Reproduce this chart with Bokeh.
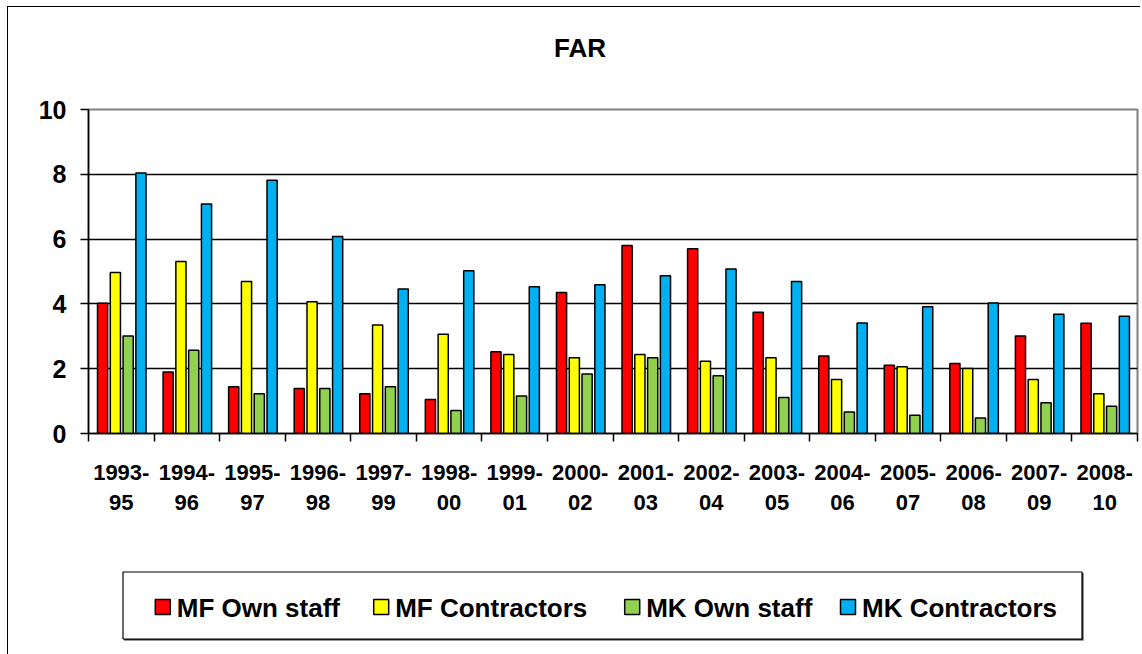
from bokeh.plotting import figure
from bokeh.models import Range1d, FixedTicker
from bokeh.layouts import column
from bokeh.core.properties import value
from bokeh.embed import file_html
from bokeh.resources import INLINE

categories = ["1993-95", "1994-96", "1995-97", "1996-98", "1997-99", "1998-00",
              "1999-01", "2000-02", "2001-03", "2002-04", "2003-05", "2004-06",
              "2005-07", "2006-08", "2007-09", "2008-10"]
series_names = ["MF Own staff", "MF Contractors", "MK Own staff", "MK Contractors"]
mf_own = [4.02, 1.90, 1.44, 1.39, 1.23, 1.05, 2.52, 4.35, 5.80, 5.70, 3.74, 2.39, 2.11, 2.16, 3.01, 3.40]
mf_con = [4.97, 5.31, 4.69, 4.07, 3.35, 3.06, 2.44, 2.34, 2.44, 2.23, 2.34, 1.67, 2.06, 2.01, 1.67, 1.23]
mk_own = [3.01, 2.57, 1.23, 1.39, 1.44, 0.71, 1.16, 1.84, 2.34, 1.78, 1.11, 0.66, 0.56, 0.48, 0.95, 0.84]
mk_con = [8.04, 7.08, 7.82, 6.08, 4.46, 5.02, 4.53, 4.59, 4.87, 5.08, 4.69, 3.41, 3.91, 4.03, 3.68, 3.62]
y_ticks = [0, 2, 4, 6, 8, 10]
title_text = "FAR"

colors = ["#FF0000", "#FFFF00", "#92D050", "#00B0F0"]
offsets = [-0.285, -0.09, 0.105, 0.30]
FONT = "Liberation Sans"
FRAME_W = 1049


def blank_panel(h):
    f = figure(output_backend="svg", toolbar_location=None,
               frame_width=FRAME_W, frame_height=h,
               min_border_left=80, min_border_right=3, min_border_top=0, min_border_bottom=0,
               x_axis_type=None, y_axis_type=None,
               x_range=Range1d(0, FRAME_W), y_range=Range1d(0, h))
    f.xgrid.grid_line_color = None
    f.ygrid.grid_line_color = None
    f.outline_line_color = None
    f.border_fill_color = "white"
    f.background_fill_color = "white"
    return f


# title panel
TITLE_H = 70
pt = blank_panel(TITLE_H)
pt.text(x=[465.5], y=[29.5], text=[title_text], text_font=value(FONT), text_font_style="bold",
        text_font_size="26px", text_color="black", text_baseline="middle", text_align="left")

# main chart
p = figure(output_backend="svg", toolbar_location=None,
           frame_width=FRAME_W, frame_height=324,
           min_border_left=80, min_border_right=3, min_border_top=32, min_border_bottom=128,
           x_range=Range1d(0, len(categories)), y_range=Range1d(0, 10))
p.background_fill_color = "white"
p.border_fill_color = "white"
p.outline_line_color = "#808080"
p.outline_line_width = 2

for vals, col, off in zip([mf_own, mf_con, mk_own, mk_con], colors, offsets):
    xs = [i + 0.5 + off for i in range(len(categories))]
    p.vbar(x=xs, top=vals, width=0.155, bottom=0, fill_color=col,
           line_color="black", line_width=1.5)

# y axis
p.yaxis.ticker = FixedTicker(ticks=y_ticks, minor_ticks=[])
p.yaxis.axis_line_color = "black"
p.yaxis.axis_line_width = 1.5
p.yaxis.major_tick_out = 8
p.yaxis.major_tick_in = 0
p.yaxis.major_tick_line_width = 1.5
p.yaxis.minor_tick_line_color = None
p.yaxis.major_label_text_font = FONT
p.yaxis.major_label_text_font_style = "bold"
p.yaxis.major_label_text_font_size = "25px"
p.yaxis.major_label_text_color = "black"
p.yaxis.major_label_standoff = 14

# x axis: labels at category centres, ticks at boundaries
centers = [i + 0.5 for i in range(len(categories))]
bounds = [i for i in range(len(categories) + 1)]
p.xaxis.ticker = FixedTicker(ticks=centers, minor_ticks=bounds)
p.xaxis.major_label_overrides = {c: lab.replace("-", "-\n") for c, lab in zip(centers, categories)}
p.xaxis.major_tick_line_color = None
p.xaxis.minor_tick_out = 8
p.xaxis.minor_tick_in = 0
p.xaxis.minor_tick_line_color = "black"
p.xaxis.minor_tick_line_width = 1.5
p.xaxis.axis_line_color = "black"
p.xaxis.axis_line_width = 1.5
p.xaxis.major_label_text_font = FONT
p.xaxis.major_label_text_font_style = "bold"
p.xaxis.major_label_text_font_size = "22px"
p.xaxis.major_label_text_color = "black"
p.xaxis.major_label_standoff = 18

p.xgrid.grid_line_color = None
p.ygrid.ticker = FixedTicker(ticks=[2, 4, 6, 8])
p.ygrid.grid_line_color = "black"
p.ygrid.grid_line_width = 1.5

# legend panel
LEG_H = 93
pl = blank_panel(LEG_H)
pl.quad(left=[35.5], right=[995], bottom=[14], top=[81.5], fill_color="#303030", line_color=None)
pl.quad(left=[34.5], right=[993.5], bottom=[15.5], top=[82.5], fill_color="white",
        line_color="black", line_width=1.2)

sq_left = [66.8, 285.2, 536.2, 752.0]
sq_size = 15
sq_bottom = 40
pl.quad(left=sq_left, right=[s + sq_size for s in sq_left],
        bottom=[sq_bottom] * 4, top=[sq_bottom + sq_size] * 4,
        fill_color=colors, line_color="black", line_width=1.5)
pl.text(x=[s + sq_size + 6.5 for s in sq_left], y=[46.5] * 4, text=series_names,
        text_font=value(FONT), text_font_style="bold", text_font_size="26px",
        text_color="black", text_baseline="middle", text_align="left")

layout = column(pt, p, pl, spacing=0, margin=(6, 0, 0, 7),
                styles={"border-left": "1.5px solid black", "border-top": "1.5px solid black"})

open("out.html", "w").write(file_html(layout, INLINE))
